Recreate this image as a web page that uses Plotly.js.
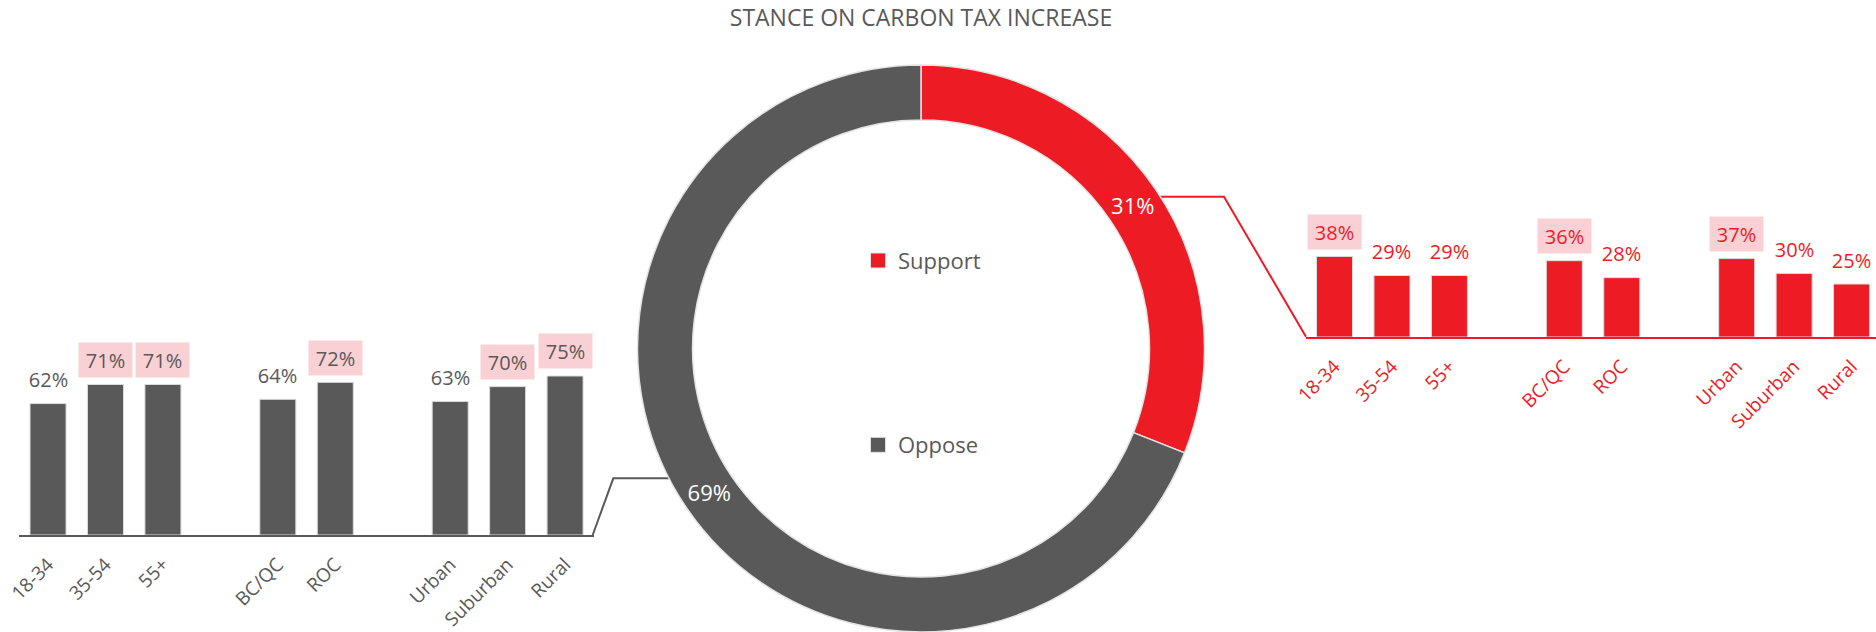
<!DOCTYPE html>
<html>
<head>
<meta charset="utf-8">
<script src="https://cdn.plot.ly/plotly-3.0.1.min.js"></script>
<style>html,body{margin:0;padding:0;background:#fff;}#chart{width:1876px;height:632px;}</style>
</head>
<body>
<div id="chart"></div>
<script>
// ---- data ----
const chartTitle = 'STANCE ON CARBON TAX INCREASE';
const stanceLabels = ['Support', 'Oppose'];
const stanceValues = [31, 69];
const groupNames = ['AGE', 'REGION', 'AREA'];
const categories = ['18-34', '35-54', '55+', 'BC/QC', 'ROC', 'Urban', 'Suburban', 'Rural'];
const categoryGroup = [0, 0, 0, 1, 1, 2, 2, 2];
const opposeValues = [62, 71, 71, 64, 72, 63, 70, 75];
const supportValues = [38, 29, 29, 36, 28, 37, 30, 25];
const opposeHighlight = [false, true, true, false, true, false, true, true];
const supportHighlight = [true, false, false, true, false, true, false, false];

// ---- style ----
const W = 1876, H = 632;
const RED = '#ED1C24', GRAY = '#595959', PINK = '#F9D0D3', HEAD = '#6b6b6b';
const FONT = 'Open Sans, Noto Sans, sans-serif';
const px = v => v / W;
const py = v => 1 - v / H;

// category axis with spacer categories between groups
const axisCats = [];
const catIndex = [];
let spacer = ' ';
categories.forEach((c, i) => {
  if (i > 0 && categoryGroup[i] !== categoryGroup[i - 1]) { axisCats.push(spacer); spacer += ' '; }
  catIndex.push(axisCats.length);
  axisCats.push(c);
});
const nSlots = axisCats.length;

function barTrace(vals, color, xa, ya) {
  return {
    type: 'bar', x: categories, y: vals, xaxis: xa, yaxis: ya,
    marker: {color: color, line: {color: '#dcdcdc', width: 1}},
    showlegend: false, hoverinfo: 'skip'
  };
}

const traces = [
  barTrace(opposeValues, GRAY, 'x', 'y'),
  barTrace(supportValues, RED, 'x2', 'y2'),
  {
    type: 'pie', labels: stanceLabels, values: stanceValues, hole: 0.806,
    sort: false, direction: 'clockwise', rotation: 0,
    marker: {colors: [RED, GRAY], line: {color: '#e4e4e4', width: 1.5}},
    texttemplate: '%{value}%', textposition: 'inside', insidetextorientation: 'horizontal',
    insidetextfont: {color: '#ffffff', size: 22, family: FONT},
    domain: {x: [px(921 - 300), px(921 + 300)], y: [0, py(65)]},
    showlegend: false, hoverinfo: 'skip'
  },
  {type: 'scatter', mode: 'markers', x: [null], y: [null], name: stanceLabels[0], legend: 'legend',
   marker: {symbol: 'square', size: 15, color: RED, line: {color: '#e0e0e0', width: 1}}, hoverinfo: 'skip'},
  {type: 'scatter', mode: 'markers', x: [null], y: [null], name: stanceLabels[1], legend: 'legend2',
   marker: {symbol: 'square', size: 15, color: GRAY, line: {color: '#e0e0e0', width: 1}}, hoverinfo: 'skip'}
];

const annotations = [];
function addLabels(vals, hl, color, xa, ya) {
  vals.forEach((v, i) => {
    annotations.push({
      xref: xa, yref: ya, x: categories[i], y: v, yshift: 24.5, yanchor: 'middle',
      text: v + '%', showarrow: false, font: {family: FONT, size: 20, color: color},
      bgcolor: hl[i] ? PINK : 'rgba(0,0,0,0)', width: 53, height: 34, borderpad: 0
    });
  });
  groupNames.forEach((g, gi) => {
    const idx = catIndex.filter((_, i) => categoryGroup[i] === gi);
    const mid = idx.reduce((a, b) => a + b, 0) / idx.length - 0.08;
    annotations.push({
      xref: xa, yref: ya, x: mid, y: 101.7, yanchor: 'middle', text: g, showarrow: false,
      font: {family: FONT, size: 19, color: HEAD}
    });
  });
}
addLabels(opposeValues, opposeHighlight, GRAY, 'x', 'y');
addLabels(supportValues, supportHighlight, RED, 'x2', 'y2');

function xAxis(domain, color, rangeEnd) {
  return {
    domain: domain, type: 'category', categoryorder: 'array', categoryarray: axisCats,
    range: [-0.5, rangeEnd], showgrid: false, zeroline: false, showline: true,
    linecolor: color, linewidth: 2, ticks: '', tickangle: -45, ticklabelstandoff: 9,
    tickfont: {family: FONT, size: 19, color: color}, fixedrange: true
  };
}
function yAxis(domain, anchor) {
  return {domain: domain, range: [0, 100], visible: false, fixedrange: true, anchor: anchor};
}

const layout = {
  width: W, height: H, margin: {l: 0, r: 0, t: 0, b: 0},
  paper_bgcolor: '#ffffff', plot_bgcolor: 'rgba(0,0,0,0)',
  font: {family: FONT, color: GRAY},
  title: {text: chartTitle, x: px(921), xanchor: 'center', y: py(18), yanchor: 'middle',
          font: {family: FONT, size: 23, color: GRAY}},
  xaxis: Object.assign(xAxis([px(19.3), px(593.8)], GRAY, nSlots - 0.5), {anchor: 'y'}),
  yaxis: yAxis([py(535), py(323)], 'x'),
  xaxis2: Object.assign(xAxis([px(1305.8), 1], RED, -0.5 + (W - 1305.8) / 57.45), {anchor: 'y2'}),
  yaxis2: yAxis([py(337), py(125)], 'x2'),
  bargap: 0.373,
  legend: {x: px(858), xanchor: 'left', y: py(260.7), yanchor: 'middle', bgcolor: 'rgba(0,0,0,0)',
           font: {family: FONT, size: 22, color: GRAY}, itemwidth: 30},
  legend2: {x: px(858), xanchor: 'left', y: py(445), yanchor: 'middle', bgcolor: 'rgba(0,0,0,0)',
            font: {family: FONT, size: 22, color: GRAY}, itemwidth: 30},
  shapes: [
    {type: 'path', xref: 'paper', yref: 'paper', layer: 'below',
     path: `M${px(592.7)},${py(535)} L${px(613.3)},${py(478.3)} L${px(690)},${py(478.3)}`,
     line: {color: GRAY, width: 2}},
    {type: 'path', xref: 'paper', yref: 'paper', layer: 'below',
     path: `M${px(1306)},${py(336.7)} L${px(1224)},${py(196.7)} L${px(1150)},${py(196.7)}`,
     line: {color: RED, width: 2}}
  ],
  annotations: annotations
};

Plotly.newPlot('chart', traces, layout, {staticPlot: true, displayModeBar: false});
</script>
</body>
</html>
